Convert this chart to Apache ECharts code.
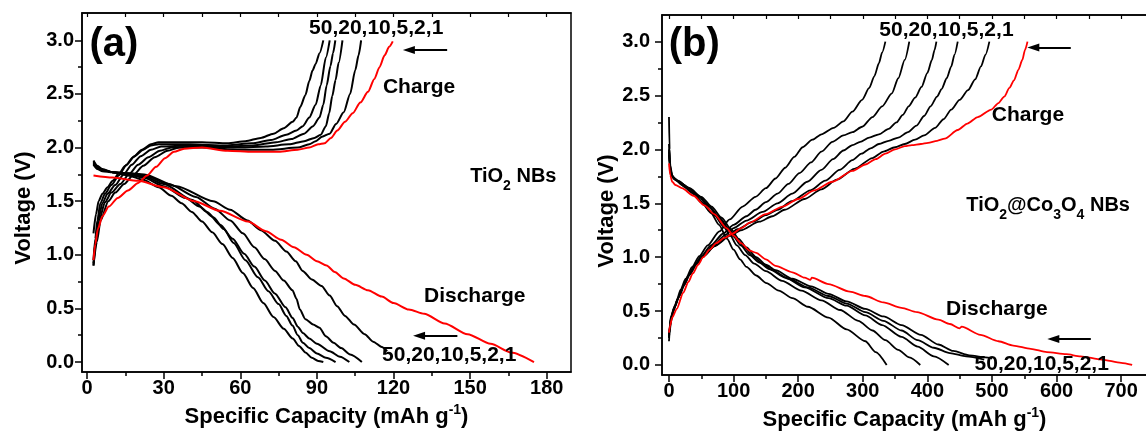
<!DOCTYPE html>
<html><head><meta charset="utf-8">
<script src="https://cdn.jsdelivr.net/npm/echarts/dist/echarts.min.js"></script>
<style>html,body{margin:0;padding:0;background:#fff}#c{width:1146px;height:436px}</style>
</head><body><div id="c"></div>
<script>
// ---------- tick labels ----------
const aXTicks = [0, 30, 60, 90, 120, 150, 180];
const aXMinor = [15, 45, 75, 105, 135, 165];
const aXTop = [0, 15, 30, 45, 60, 75, 90, 105, 120, 135, 150, 165, 180];
const bXTicks = [0, 100, 200, 300, 400, 500, 600, 700];
const bXMinor = [50, 150, 250, 350, 450, 550, 650];
const bXTop = [0, 50, 100, 150, 200, 250, 300, 350, 400, 450, 500, 550, 600, 650, 700];
const yTicks = [0, 0.5, 1.0, 1.5, 2.0, 2.5, 3.0];
const yMinor = [0.25, 0.75, 1.25, 1.75, 2.25, 2.75];
const rates = ['50', '20', '10', '5', '2', '1'];

// ---------- (a) TiO2 NBs : charge curves [capacity, voltage] ----------
const aChg50 = [[2.5,1.20],[3.5,1.38],[4.5,1.50],[6,1.57],[8,1.63],[10,1.69],[12.5,1.76],[15,1.83],[18,1.91],[21.5,1.98],[25,2.03],[28,2.05],[35,2.05],[45,2.05],[55,2.04],[62,2.06],[68,2.09],[73,2.13],[77,2.18],[80.5,2.24],[82,2.28],[83.5,2.38],[85.5,2.49],[87,2.62],[88.3,2.72],[89.5,2.78],[91,2.88],[92.5,3.0]];
const aChg20 = [[2.5,0.95],[3.2,1.15],[4,1.32],[5.2,1.48],[7,1.57],[9.5,1.65],[12.4,1.74],[15.5,1.84],[18.5,1.92],[22,1.98],[25,2.02],[28,2.03],[40,2.03],[55,2.02],[64.5,2.04],[72,2.07],[78,2.12],[82,2.16],[84.5,2.20],[87,2.28],[89.5,2.40],[91.5,2.58],[93.5,2.84],[95,3.0]];
const aChg10 = [[2.5,0.92],[3.3,1.12],[4.3,1.32],[6,1.48],[8,1.57],[11,1.65],[14.3,1.75],[17.5,1.84],[21,1.92],[25,1.98],[29,2.01],[40,2.02],[55,2.01],[65,2.02],[74,2.05],[80,2.08],[85,2.13],[88.5,2.20],[91,2.28],[92.5,2.40],[93.8,2.58],[95.3,2.76],[96.3,2.88],[97.2,3.0]];
const aChg5 = [[2.5,0.90],[3.5,1.12],[4.7,1.32],[7,1.49],[9.5,1.58],[13,1.66],[16.3,1.75],[20,1.84],[24,1.91],[28.5,1.97],[33,2.0],[45,2.01],[60,2.0],[70,2.01],[79,2.03],[85,2.06],[89,2.09],[91.5,2.12],[93.5,2.20],[94.8,2.32],[96,2.48],[97.3,2.63],[98.5,2.79],[100,3.0]];
const aChg2 = [[2.5,0.90],[3.8,1.12],[5.3,1.32],[8.3,1.50],[11,1.58],[14.5,1.66],[18.3,1.75],[22,1.83],[26.5,1.91],[31.5,1.97],[36,2.0],[45,2.0],[60,1.98],[72,1.98],[82.5,2.0],[87,2.03],[89.5,2.06],[92,2.10],[95,2.13],[97.5,2.22],[100.5,2.33],[103,2.50],[105,2.72],[106.3,2.86],[107.3,3.0]];
const aChg1 = [[2.5,0.95],[3.2,1.10],[4.2,1.24],[6,1.36],[8.5,1.45],[12,1.53],[16,1.60],[20,1.67],[23.5,1.74],[27,1.82],[30.5,1.90],[34,1.96],[38,1.99],[45,2.0],[55,1.97],[65,1.96],[75,1.96],[82.5,1.98],[87,2.0],[90.5,2.03],[93,2.04],[95.5,2.09],[98,2.16],[101,2.24],[104,2.32],[107,2.42],[110,2.52],[112.5,2.64],[114.5,2.75],[116.5,2.86],[118.3,2.94],[119.7,2.99]];
// ---------- (a) discharge curves ----------
const aDis50 = [[2.5,1.88],[4,1.83],[6,1.80],[10,1.77],[16,1.74],[22,1.70],[28,1.63],[33,1.55],[37,1.48],[41,1.40],[45,1.31],[49,1.21],[53,1.10],[57,0.97],[61,0.83],[65,0.69],[69,0.55],[73,0.42],[77,0.31],[80.5,0.22],[83,0.15],[85.5,0.09],[88,0.04],[90.5,0.01],[92.5,0]];
const aDis20 = [[2.5,1.87],[4,1.82],[6,1.79],[10,1.77],[16,1.75],[22,1.72],[30,1.64],[38.6,1.53],[44,1.45],[49.4,1.35],[53.5,1.24],[57.4,1.11],[62,0.95],[66.9,0.79],[71,0.66],[75,0.54],[78,0.43],[80.4,0.34],[82.5,0.25],[84.5,0.18],[87,0.13],[90,0.08],[93.5,0.04],[97.3,0]];
const aDis10 = [[2.5,1.86],[4,1.82],[6,1.79],[10,1.77],[16,1.75],[22.4,1.73],[30,1.66],[41.3,1.51],[47,1.40],[52.1,1.28],[57,1.15],[61.5,1.01],[65.5,0.89],[69.6,0.76],[73.5,0.64],[77.7,0.51],[80.5,0.41],[82.5,0.33],[84.5,0.27],[87,0.22],[90,0.17],[95,0.10],[99,0.05],[102.7,0]];
const aDis5 = [[2.5,1.85],[4,1.81],[6,1.79],[10,1.77],[16,1.76],[22.4,1.74],[32,1.66],[42.6,1.54],[50,1.43],[56.1,1.32],[61,1.20],[65.5,1.07],[69.5,0.96],[73.6,0.85],[77,0.76],[80.4,0.67],[82,0.59],[83.3,0.49],[85.5,0.40],[88.5,0.35],[91,0.32],[93.5,0.24],[96.5,0.18],[99.5,0.13],[103,0.07],[107.6,0]];
const aDis2 = [[2.5,1.84],[4,1.80],[6,1.78],[10,1.77],[16,1.76],[22.4,1.75],[35,1.64],[49.4,1.50],[56,1.42],[62.8,1.32],[68,1.23],[73.6,1.13],[78,1.03],[81.7,0.94],[84.4,0.85],[88,0.77],[91.8,0.71],[95,0.62],[97.9,0.52],[101,0.43],[104.5,0.35],[108.7,0.26],[112,0.19],[115.4,0.14],[117.5,0.10]];
const aDis1 = [[2.5,1.74],[10,1.72],[20,1.69],[30,1.63],[42,1.50],[52,1.41],[63,1.31],[70,1.22],[76,1.14],[81,1.07],[86,1.0],[90,0.94],[93.8,0.90],[97,0.84],[100.5,0.78],[105,0.72],[110,0.67],[115.4,0.61],[120,0.55],[126,0.49],[132,0.45],[140,0.36],[149,0.26],[158,0.17],[166,0.09],[175,0]];

// ---------- (b) TiO2@Co3O4 NBs : charge curves ----------
const bChg50 = [[0,0.22],[1,0.30],[3,0.40],[7,0.50],[12,0.60],[18,0.70],[26,0.80],[36,0.91],[47,1.01],[60,1.11],[78,1.24],[94,1.35],[114,1.47],[134,1.56],[150,1.64],[165,1.73],[180,1.83],[194,1.93],[207,2.02],[222,2.09],[236,2.14],[255,2.20],[270,2.26],[284,2.35],[299,2.46],[310,2.57],[318,2.68],[325,2.80],[330,2.90],[335,3.0]];
const bChg20 = [[0,0.25],[1,0.32],[3,0.42],[8,0.52],[14,0.62],[21,0.72],[29,0.82],[39,0.92],[50,1.01],[65,1.11],[84,1.22],[100,1.30],[120,1.38],[134,1.44],[150,1.51],[168,1.59],[185,1.68],[202,1.78],[220,1.88],[236,1.98],[253,2.07],[270,2.13],[284,2.16],[299,2.21],[315,2.30],[330,2.40],[345,2.52],[355,2.66],[365,2.83],[372,3.0]];
const bChg10 = [[0,0.26],[1,0.33],[3,0.43],[8,0.53],[15,0.63],[22,0.73],[31,0.83],[41,0.93],[52,1.01],[68,1.11],[88,1.21],[100,1.27],[120,1.34],[145,1.42],[168,1.50],[191,1.59],[214,1.70],[236,1.81],[254,1.91],[270,1.99],[284,2.04],[296,2.07],[310,2.11],[325,2.14],[340,2.19],[352,2.25],[362,2.32],[371,2.40],[381,2.48],[391,2.58],[400,2.71],[407,2.83],[411,2.92],[414,3.0]];
const bChg5 = [[0,0.27],[1,0.34],[3,0.44],[9,0.54],[16,0.64],[23,0.74],[32,0.84],[43,0.94],[54,1.01],[70,1.10],[92,1.20],[106,1.26],[130,1.33],[150,1.39],[168,1.44],[190,1.52],[219,1.62],[242,1.71],[264,1.81],[284,1.90],[298,1.96],[312,2.01],[325,2.05],[340,2.08],[355,2.11],[370,2.16],[383,2.22],[395,2.31],[405,2.40],[415,2.49],[422,2.56],[430,2.66],[437,2.77],[442,2.88],[447,3.0]];
const bChg2 = [[0,0.29],[1,0.35],[3,0.45],[9,0.55],[17,0.65],[24,0.75],[33,0.85],[44,0.95],[55,1.02],[72,1.11],[95,1.20],[111,1.25],[140,1.33],[160,1.38],[179,1.44],[210,1.54],[236,1.63],[260,1.72],[287,1.82],[315,1.92],[332,1.98],[350,2.02],[365,2.05],[381,2.09],[395,2.13],[412,2.20],[425,2.28],[437,2.37],[450,2.46],[463,2.55],[474,2.65],[483,2.77],[490,2.88],[496,3.0]];
const bChg1 = [[0,0.30],[1.5,0.36],[5,0.44],[12,0.52],[22,0.67],[30,0.77],[37,0.85],[45,0.93],[53,1.0],[63,1.07],[73,1.13],[86,1.18],[99,1.22],[112,1.27],[125,1.32],[150,1.40],[176,1.47],[200,1.54],[225,1.62],[253,1.70],[284,1.80],[304,1.86],[320,1.91],[335,1.96],[350,2.0],[365,2.03],[376,2.04],[390,2.05],[401,2.06],[415,2.08],[427,2.10],[447,2.18],[462,2.24],[478,2.30],[499,2.37],[510,2.43],[519,2.49],[527,2.57],[534,2.64],[541,2.74],[547,2.83],[551,2.92],[555,3.0]];
// ---------- (b) discharge curves ----------
const bDis50 = [[0,2.30],[1,2.0],[2,1.85],[5,1.76],[10,1.72],[20,1.67],[35,1.60],[50,1.51],[65,1.41],[77.5,1.30],[90,1.17],[100,1.07],[110,0.98],[120,0.91],[135,0.83],[151,0.76],[170,0.69],[191,0.62],[215,0.54],[247,0.44],[275,0.33],[304,0.22],[320,0.12],[337,0]];
const bDis20 = [[0,2.05],[1,1.9],[3,1.8],[6,1.74],[12,1.71],[25,1.65],[40,1.58],[55,1.49],[70,1.39],[85,1.28],[95,1.20],[105,1.11],[118,1.02],[132,0.94],[150,0.87],[175,0.78],[205,0.69],[236,0.60],[265,0.51],[293,0.41],[315,0.32],[335,0.23],[355,0.14],[372,0.07],[389,0]];
const bDis10 = [[0,2.0],[1,1.88],[3,1.78],[7,1.74],[14,1.71],[28,1.65],[45,1.57],[60,1.48],[75,1.38],[90,1.27],[100,1.19],[111,1.11],[125,1.02],[140,0.95],[155,0.89],[180,0.81],[210,0.72],[247,0.62],[275,0.55],[304,0.46],[330,0.37],[360,0.26],[385,0.17],[410,0.08],[433,0]];
const bDis5 = [[0,1.98],[1,1.86],[3,1.77],[8,1.73],[16,1.70],[30,1.64],[48,1.56],[63,1.47],[78,1.37],[93,1.26],[104,1.18],[115,1.10],[130,1.01],[145,0.94],[160,0.88],[185,0.80],[215,0.72],[247,0.64],[275,0.57],[304,0.49],[332,0.41],[360,0.32],[385,0.23],[410,0.16],[435,0.11],[460,0.08],[488,0.05]];
const bDis2 = [[0,1.95],[1,1.85],[3,1.76],[9,1.72],[18,1.69],[32,1.64],[50,1.56],[66,1.47],[81,1.37],[96,1.26],[108,1.17],[120,1.09],[135,1.0],[150,0.93],[165,0.88],[191,0.80],[220,0.73],[247,0.66],[275,0.59],[304,0.52],[332,0.45],[360,0.37],[390,0.28],[417,0.19],[440,0.13],[465,0.09],[490,0.07],[500,0.06]];
const bDis1 = [[0,1.87],[2,1.76],[5,1.70],[10,1.67],[20,1.64],[38,1.57],[55,1.48],[70,1.40],[89,1.27],[100,1.20],[111.5,1.13],[125,1.06],[135,1.04],[150,0.98],[165,0.92],[191,0.86],[210,0.81],[219,0.79],[221,0.81],[247,0.75],[280,0.68],[304,0.64],[332,0.58],[360,0.53],[384,0.49],[417,0.42],[435,0.38],[450,0.34],[453,0.355],[482,0.28],[510,0.22],[533,0.18],[560,0.15],[585,0.12],[615,0.10],[637,0.08],[670,0.05],[700,0.02],[717,0]];

const F = '"Liberation Sans", Arial, sans-serif';
const chart = echarts.init(document.getElementById('c'), null, {renderer: 'canvas'});

function xAxesFor(gi, min, max, major, minor, top, nameGap) {
  return [
    { type: 'value', gridIndex: gi, min, max, position: 'bottom',
      axisLine: { show: true, onZero: false, lineStyle: { color: '#000', width: 1.5 } },
      axisTick: { show: true, length: 7, customValues: major, lineStyle: { color: '#000', width: 1.5 } },
      axisLabel: { show: true, customValues: major, margin: 6, color: '#000', fontFamily: F, fontWeight: 'bold', fontSize: 20, formatter: v => String(v) },
      splitLine: { show: false },
      name: 'Specific Capacity (mAh g{sup|-1})', nameLocation: 'middle', nameGap,
      nameTextStyle: { color: '#000', fontFamily: F, fontWeight: 'bold', fontSize: 22,
        rich: { sup: { color: '#000', fontFamily: F, fontWeight: 'bold', fontSize: 14, padding: [0, 0, 15, 0] } } } },
    { type: 'value', gridIndex: gi, min, max, position: 'bottom',
      axisLine: { show: false, onZero: false },
      axisTick: { show: true, length: 4, customValues: minor, lineStyle: { color: '#000', width: 1.5 } },
      axisLabel: { show: false }, splitLine: { show: false } },
    { type: 'value', gridIndex: gi, min, max, position: 'top',
      axisLine: { show: true, onZero: false, lineStyle: { color: '#000', width: 1.5 } },
      axisTick: { show: true, inside: true, length: 4, customValues: top, lineStyle: { color: '#000', width: 1.2 } },
      axisLabel: { show: false }, splitLine: { show: false } }
  ];
}
function yAxesFor(gi, min, max, nameGap, shift, margin) {
  return [
    { type: 'value', gridIndex: gi, min, max, position: 'left',
      axisLine: { show: true, onZero: false, lineStyle: { color: '#000', width: 1.5 } },
      axisTick: { show: true, length: 7, customValues: yTicks, lineStyle: { color: '#000', width: 1.5 } },
      axisLabel: { show: true, customValues: yTicks, margin, color: '#000', fontFamily: F, fontWeight: 'bold', fontSize: 20, formatter: v => v.toFixed(1) },
      splitLine: { show: false },
      name: 'Voltage (V)', nameLocation: 'middle', nameGap,
      nameTextStyle: { color: '#000', fontFamily: F, fontWeight: 'bold', fontSize: 22, padding: [0, shift, 0, 0] } },
    { type: 'value', gridIndex: gi, min, max, position: 'left',
      axisLine: { show: false, onZero: false },
      axisTick: { show: true, length: 4, customValues: yMinor, lineStyle: { color: '#000', width: 1.5 } },
      axisLabel: { show: false }, splitLine: { show: false } }
  ];
}

function curve(data, color, xi, yi, w) {
  return { type: 'line', data, xAxisIndex: xi, yAxisIndex: yi, showSymbol: false, symbol: 'none',
    smooth: 0.25, smoothMonotone: 'x', silent: true, clip: true,
    lineStyle: { color, width: w }, z: color === '#000' ? 2 : 3 };
}

const lab = (coord, text, size) => ({ coord, value: 0,
  label: { show: true, formatter: text, position: 'inside', color: '#000', fontFamily: F,
    fontSize: size, fontWeight: 'bold',
    rich: { s: { color: '#000', fontFamily: F, fontSize: 14, fontWeight: 'bold', padding: [20, 0, 0, 0] } } } });
const head = (x, y) => ({ coord: [x, y], value: 0, symbol: 'triangle', symbolSize: [8, 12], symbolRotate: 90,
  itemStyle: { color: '#000' }, label: { show: false } });
const rateText = rates.join(',');
const arrow = (x1, x2, y) => [{ coord: [x1, y] }, { coord: [x2, y] }];
const markers = (points, arrows) => ({
  markPoint: { symbol: 'circle', symbolSize: 1, itemStyle: { color: 'rgba(0,0,0,0)' }, silent: true, animation: false, data: points },
  markLine: { symbol: ['none', 'none'], silent: true, animation: false,
    label: { show: false }, lineStyle: { color: '#000', width: 2, type: 'solid' }, data: arrows }
});

const aRed = Object.assign(curve(aDis1, '#f00', 0, 0, 2), markers([
  lab([10.5, 2.956], '(a)', 40),
  lab([113.2, 3.11], rateText, 21),
  lab([130, 2.56], 'Charge', 21),
  lab([166.9, 1.73], 'TiO{s|2} NBs', 20),
  lab([151.8, 0.615], 'Discharge', 21),
  lab([141.8, 0.068], rateText, 21),
  head(126, 2.91), head(130, 0.245)
], [arrow(141, 126, 2.91), arrow(145, 130, 0.245)]));

const bRed = Object.assign(curve(bDis1, '#f00', 3, 2, 1.8), markers([
  lab([39, 2.97], '(b)', 40),
  lab([429.5, 3.11], rateText, 21),
  lab([555.7, 2.32], 'Charge', 21),
  lab([587, 1.48], 'TiO{s|2}@Co{s|3}O{s|4} NBs', 20),
  lab([507.6, 0.52], 'Discharge', 21),
  lab([577, 0.01], rateText, 21),
  head(564, 2.945), head(595, 0.24)
], [arrow(622, 564, 2.945), arrow(653, 595, 0.24)]));

const option = {
  animation: false,
  backgroundColor: '#fff',
  grid: [
    { left: 82, top: 13, width: 489, height: 359, show: true, borderColor: '#000', borderWidth: 1.5, backgroundColor: 'rgba(0,0,0,0)', containLabel: false, outerBoundsMode: 'none' },
    { left: 662, top: 15, width: 485, height: 360, show: true, borderColor: '#000', borderWidth: 1.5, backgroundColor: 'rgba(0,0,0,0)', containLabel: false, outerBoundsMode: 'none' }
  ],
  xAxis: [].concat(
    xAxesFor(0, -2, 189.5, aXTicks, aXMinor, aXTop, 24),
    xAxesFor(1, -10.8, 740, bXTicks, bXMinor, bXTop, 26)
  ),
  yAxis: [].concat(
    yAxesFor(0, -0.093, 3.255, 47, 31, 8),
    yAxesFor(1, -0.093, 3.247, 43, 32, 12)
  ),
  series: [
    curve(aChg50, '#000', 0, 0, 2), curve(aChg20, '#000', 0, 0, 2), curve(aChg10, '#000', 0, 0, 2),
    curve(aChg5, '#000', 0, 0, 2), curve(aChg2, '#000', 0, 0, 2),
    curve(aDis50, '#000', 0, 0, 2), curve(aDis20, '#000', 0, 0, 2), curve(aDis10, '#000', 0, 0, 2),
    curve(aDis5, '#000', 0, 0, 2), curve(aDis2, '#000', 0, 0, 2),
    curve(aChg1, '#f00', 0, 0, 2), aRed,
    curve(bChg50, '#000', 3, 2, 1.8), curve(bChg20, '#000', 3, 2, 1.8), curve(bChg10, '#000', 3, 2, 1.8),
    curve(bChg5, '#000', 3, 2, 1.8), curve(bChg2, '#000', 3, 2, 1.8),
    curve(bDis50, '#000', 3, 2, 1.8), curve(bDis20, '#000', 3, 2, 1.8), curve(bDis10, '#000', 3, 2, 1.8),
    curve(bDis5, '#000', 3, 2, 1.8), curve(bDis2, '#000', 3, 2, 1.8),
    curve(bChg1, '#f00', 3, 2, 1.8), bRed
  ]
};
chart.setOption(option);
</script></body></html>
